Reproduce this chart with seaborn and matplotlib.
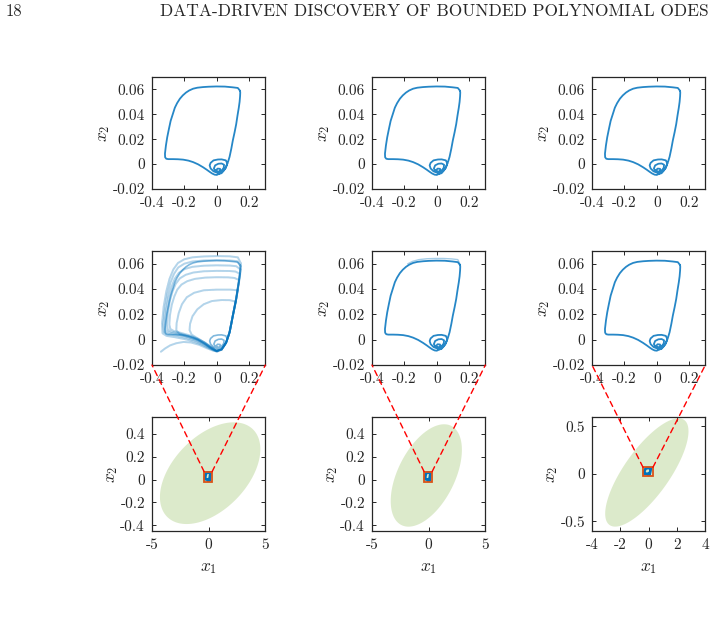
import numpy as np
import matplotlib
matplotlib.use("Agg")
import matplotlib.pyplot as plt
import seaborn as sns
from matplotlib.patches import Rectangle, ConnectionPatch

# ---------------- data ----------------
# limit cycle (x1, x2)
cycle_x = [0.144, 0.130, 0.099, 0.050, -0.003, -0.050, -0.085, -0.120, -0.146, -0.170,
           -0.190, -0.210, -0.228, -0.245, -0.259, -0.272, -0.285, -0.296, -0.306, -0.314,
           -0.320, -0.319, -0.312, -0.300, -0.270, -0.240, -0.208, -0.175, -0.146, -0.115,
           -0.085, -0.062, -0.044, -0.028, -0.013, 0.000, 0.030, 0.054, 0.065, 0.056,
           0.030, 0.007, -0.020, -0.038, -0.044, -0.038, -0.020, 0.000, 0.025, 0.043,
           0.045, 0.030, 0.010, -0.010, -0.018, -0.008, 0.010, 0.022, 0.020, 0.005,
           -0.004, 0.004, 0.016, 0.028, 0.045, 0.058, 0.070, 0.079, 0.090, 0.099,
           0.110, 0.120, 0.128, 0.136, 0.141, 0.144, 0.145, 0.144]
cycle_y = [0.0589, 0.0612, 0.0617, 0.0623, 0.0624, 0.0622, 0.0619, 0.0614, 0.0606, 0.0592,
           0.0575, 0.0552, 0.0525, 0.0490, 0.0453, 0.0400, 0.0347, 0.0280, 0.0216, 0.0150,
           0.0084, 0.0055, 0.0043, 0.0040, 0.0040, 0.0039, 0.0036, 0.0028, 0.0016, -0.0002,
           -0.0025, -0.0045, -0.0062, -0.0076, -0.0085, -0.0087, -0.0068, -0.0034, 0.0005, 0.0030,
           0.0038, 0.0037, 0.0030, 0.0010, -0.0010, -0.0035, -0.0058, -0.0068, -0.0060, -0.0030,
           -0.0005, 0.0005, 0.0003, -0.0010, -0.0035, -0.0055, -0.0062, -0.0050, -0.0038, -0.0036,
           -0.0050, -0.0068, -0.0076, -0.0074, -0.0050, -0.0021, 0.0020, 0.0058, 0.0125, 0.0189,
           0.0255, 0.0321, 0.0390, 0.0453, 0.0500, 0.0545, 0.0575, 0.0589]

# transient loops of the first middle panel
loop1_x = [0.150, 0.130, 0.080, 0.000, -0.080, -0.150, -0.200, -0.240, -0.268, -0.292, -0.312, -0.328, -0.338,
           -0.335, -0.310, -0.260, -0.200, -0.140, -0.090, -0.045, 0.000, 0.030, 0.058, 0.079, 0.099, 0.120, 0.137, 0.147, 0.150]
loop1_y = [0.0600, 0.0650, 0.0658, 0.0660, 0.0657, 0.0650, 0.0635, 0.0605, 0.0555, 0.0480, 0.0380, 0.0260, 0.0130,
           0.0050, 0.0030, 0.0020, 0.0005, -0.0015, -0.0040, -0.0070, -0.0095, -0.0080, -0.0025, 0.0055, 0.0185, 0.0320, 0.0450, 0.0540, 0.0600]
loop2_x = [0.148, 0.125, 0.080, 0.000, -0.080, -0.150, -0.200, -0.238, -0.264, -0.286, -0.305, -0.320, -0.330,
           -0.326, -0.300, -0.250, -0.190, -0.130, -0.085, -0.042, 0.000, 0.030, 0.058, 0.079, 0.099, 0.120, 0.136, 0.145, 0.148]
loop2_y = [0.0580, 0.0620, 0.0625, 0.0628, 0.0625, 0.0617, 0.0600, 0.0570, 0.0520, 0.0450, 0.0355, 0.0240, 0.0120,
           0.0060, 0.0045, 0.0032, 0.0015, -0.0008, -0.0035, -0.0066, -0.0092, -0.0078, -0.0022, 0.0058, 0.0188, 0.0322, 0.0453, 0.0540, 0.0580]
loop3_x = [0.146, 0.120, 0.080, 0.000, -0.080, -0.150, -0.198, -0.234, -0.260, -0.280, -0.298, -0.312, -0.320,
           -0.315, -0.290, -0.240, -0.180, -0.125, -0.080, -0.040, 0.000, 0.030, 0.058, 0.079, 0.099, 0.120, 0.135, 0.143, 0.146]
loop3_y = [0.0555, 0.0580, 0.0585, 0.0587, 0.0584, 0.0575, 0.0558, 0.0528, 0.0480, 0.0415, 0.0330, 0.0225, 0.0120,
           0.0070, 0.0055, 0.0042, 0.0022, -0.0002, -0.0030, -0.0062, -0.0090, -0.0077, -0.0022, 0.0058, 0.0188, 0.0322, 0.0450, 0.0520, 0.0555]
loop4_x = [0.143, 0.115, 0.080, 0.000, -0.080, -0.145, -0.192, -0.228, -0.254, -0.273, -0.290, -0.302, -0.308,
           -0.302, -0.280, -0.235, -0.175, -0.120, -0.075, -0.038, 0.000, 0.030, 0.058, 0.079, 0.099, 0.120, 0.133, 0.140, 0.143]
loop4_y = [0.0520, 0.0538, 0.0542, 0.0543, 0.0540, 0.0530, 0.0512, 0.0484, 0.0440, 0.0382, 0.0305, 0.0210, 0.0120,
           0.0078, 0.0062, 0.0050, 0.0030, 0.0005, -0.0025, -0.0058, -0.0088, -0.0077, -0.0022, 0.0058, 0.0188, 0.0322, 0.0430, 0.0490, 0.0520]
loop5_x = [0.138, 0.110, 0.070, 0.000, -0.070, -0.135, -0.182, -0.218, -0.244, -0.262, -0.278, -0.289, -0.293,
           -0.287, -0.265, -0.225, -0.170, -0.118, -0.075, -0.038, 0.000, 0.030, 0.058, 0.079, 0.099, 0.118, 0.130, 0.136, 0.138]
loop5_y = [0.0470, 0.0487, 0.0492, 0.0493, 0.0490, 0.0480, 0.0462, 0.0435, 0.0395, 0.0342, 0.0275, 0.0195, 0.0120,
           0.0085, 0.0068, 0.0055, 0.0035, 0.0008, -0.0022, -0.0055, -0.0087, -0.0076, -0.0022, 0.0058, 0.0188, 0.0318, 0.0410, 0.0450, 0.0470]
loop6_x = [0.130, 0.080, 0.000, -0.080, -0.140, -0.185, -0.215, -0.235, -0.248, -0.250, -0.230, -0.180, -0.120,
           -0.070, -0.030, 0.000, 0.030, 0.058, 0.079, 0.099, 0.120, 0.130]
loop6_y = [0.0390, 0.0395, 0.0395, 0.0390, 0.0370, 0.0335, 0.0280, 0.0210, 0.0130, 0.0075, 0.0045, 0.0025, 0.0000,
           -0.0035, -0.0068, -0.0089, -0.0077, -0.0022, 0.0058, 0.0188, 0.0322, 0.0390]
loop7_x = [0.118, 0.080, 0.030, -0.030, -0.080, -0.120, -0.150, -0.165, -0.168, -0.155, -0.120, -0.080, -0.040,
           0.000, 0.030, 0.058, 0.079, 0.099, 0.118]
loop7_y = [0.0300, 0.0312, 0.0313, 0.0305, 0.0280, 0.0240, 0.0185, 0.0125, 0.0075, 0.0040, 0.0012, -0.0018, -0.0053,
           -0.0088, -0.0076, -0.0020, 0.0058, 0.0188, 0.0300]
start_x = [-0.345, -0.320, -0.288, -0.250, -0.206, -0.160, -0.110, -0.060, -0.020, 0.005]
start_y = [-0.0095, -0.0070, -0.0045, -0.0028, -0.0018, -0.0022, -0.0040, -0.0068, -0.0088, -0.0092]
transient_x = [loop1_x, loop2_x, loop3_x, loop4_x, loop5_x, loop6_x, loop7_x, start_x]
transient_y = [loop1_y, loop2_y, loop3_y, loop4_y, loop5_y, loop6_y, loop7_y, start_y]

# small excursion above the cycle in the centre panel
fuzz_x = [0.146, 0.130, 0.090, 0.040, -0.010, -0.060, -0.110, -0.150, -0.180]
fuzz_y = [0.0590, 0.0632, 0.0638, 0.0641, 0.0641, 0.0639, 0.0632, 0.0618, 0.0598]

# attractor ellipses: centre x1, centre x2, half-width x1, half-height x2, correlation
ell_cx = [0.13, -0.21, -0.13]
ell_cy = [0.057, 0.037, 0.016]
ell_a = [4.43, 3.14, 2.94]
ell_b = [0.446, 0.449, 0.570]
ell_rho = [0.47, 0.50, 0.76]

# zoom window shown in the upper rows
zoom_x = [-0.4, 0.3]
zoom_y = [-0.02, 0.07]

top_xticks = [-0.4, -0.2, 0, 0.2]
top_xlabels = ["-0.4", "-0.2", "0", "0.2"]
top_yticks = [-0.02, 0, 0.02, 0.04, 0.06]
top_ylabels = ["-0.02", "0", "0.02", "0.04", "0.06"]

bot_xlim = [(-5, 5), (-5, 5), (-4, 4)]
bot_ylim = [(-0.45, 0.55), (-0.45, 0.55), (-0.6, 0.6)]
bot_xticks = [[-5, 0, 5], [-5, 0, 5], [-4, -2, 0, 2, 4]]
bot_xlabels = [["-5", "0", "5"], ["-5", "0", "5"], ["-4", "-2", "0", "2", "4"]]
bot_yticks = [[-0.4, -0.2, 0, 0.2, 0.4], [-0.4, -0.2, 0, 0.2, 0.4], [-0.5, 0, 0.5]]
bot_ylabels = [["-0.4", "-0.2", "0", "0.2", "0.4"], ["-0.4", "-0.2", "0", "0.2", "0.4"], ["-0.5", "0", "0.5"]]

header_page = "18"
header_title = "DATA-DRIVEN DISCOVERY OF BOUNDED POLYNOMIAL ODES"

# ---------------- style ----------------
sns.set_theme(style="ticks")
plt.rcParams.update({
    "mathtext.fontset": "cm",
    "axes.unicode_minus": False,
    "axes.edgecolor": "#262626",
    "axes.linewidth": 0.9,
})
BLUE = "#0072BD"
TICKFONT = dict(family="cmr10", size=11)
LABEL_SIZE = 12.5

fig = plt.figure(figsize=(7.15, 6.17), dpi=100)

col_left = [0.2126, 0.5203, 0.8280]
col_w = 0.1585
row_bottom = [0.6937, 0.4084, 0.1394]
row_h = [0.1815, 0.1848, 0.1848]


def style_axes(ax, xt, xl, yt, yl):
    ax.set_xticks(xt)
    ax.set_xticklabels(xl, **TICKFONT)
    ax.set_yticks(yt)
    ax.set_yticklabels(yl, **TICKFONT)
    ax.tick_params(direction="in", top=True, right=True, length=3, width=0.7,
                   colors="#262626")
    ax.tick_params(axis="x", pad=5.5)
    ax.tick_params(axis="y", pad=5)
    for s in ax.spines.values():
        s.set_visible(True)
        s.set_color("#262626")
    ax.set_ylabel(r"$x_2$", fontsize=LABEL_SIZE, color="#262626", labelpad=0.5)


def draw(ax, xs, ys, **kw):
    sns.lineplot(x=xs, y=ys, sort=False, estimator=None, ax=ax, legend=False, **kw)


axes = {}
for r in range(3):
    for c in range(3):
        axes[(r, c)] = fig.add_axes([col_left[c], row_bottom[r], col_w, row_h[r]])

# top row: identified cycle
for c in range(3):
    ax = axes[(0, c)]
    draw(ax, cycle_x, cycle_y, color=BLUE, lw=1.3, alpha=0.85)
    ax.set_xlim(*zoom_x)
    ax.set_ylim(*zoom_y)
    style_axes(ax, top_xticks, top_xlabels, top_yticks, top_ylabels)

# middle row
ax = axes[(1, 0)]
for lx, ly in zip(transient_x, transient_y):
    for k in range(3):
        draw(ax, lx, ly, color=BLUE, lw=1.4, alpha=0.11)
draw(ax, cycle_x, cycle_y, color=BLUE, lw=1.2, alpha=0.5)
ax = axes[(1, 1)]
draw(ax, fuzz_x, fuzz_y, color=BLUE, lw=1.0, alpha=0.35)
draw(ax, cycle_x, cycle_y, color=BLUE, lw=1.3, alpha=0.85)
ax = axes[(1, 2)]
draw(ax, cycle_x, cycle_y, color=BLUE, lw=1.3, alpha=0.85)
for c in range(3):
    ax = axes[(1, c)]
    ax.set_xlim(*zoom_x)
    ax.set_ylim(*zoom_y)
    style_axes(ax, top_xticks, top_xlabels, top_yticks, top_ylabels)

# bottom row: ellipses with zoom box
t = np.linspace(0, 2 * np.pi, 300)
for c in range(3):
    ax = axes[(2, c)]
    phi = np.arccos(ell_rho[c])
    ex = ell_cx[c] + ell_a[c] * np.cos(t)
    ey = ell_cy[c] + ell_b[c] * np.cos(t - phi)
    ax.fill(ex, ey, color="#77AC30", alpha=0.25, lw=0)
    draw(ax, cycle_x, cycle_y, color=BLUE, lw=2.0)
    ax.add_patch(Rectangle((zoom_x[0], zoom_y[0]), zoom_x[1] - zoom_x[0], zoom_y[1] - zoom_y[0],
                           fill=False, edgecolor="#D95319", lw=1.3, zorder=5))
    ax.set_xlim(*bot_xlim[c])
    ax.set_ylim(*bot_ylim[c])
    style_axes(ax, bot_xticks[c], bot_xlabels[c], bot_yticks[c], bot_ylabels[c])
    ax.set_xlabel(r"$x_1$", fontsize=LABEL_SIZE, color="#262626", labelpad=4)

    for xc in zoom_x:
        con = ConnectionPatch(xyA=(xc, zoom_y[1]), coordsA=ax.transData,
                              xyB=(xc, zoom_y[0]), coordsB=axes[(1, c)].transData,
                              color="red", lw=1.0, linestyle=(0, (4, 3)), zorder=10)
        fig.add_artist(con)

fig.text(0.008, 0.981, header_page, family="cmr10", size=12, va="center", ha="left")
fig.text(0.224, 0.981, header_title, family="cmr10", size=12.5, va="center", ha="left")

fig.savefig("out.png", dpi=100)
